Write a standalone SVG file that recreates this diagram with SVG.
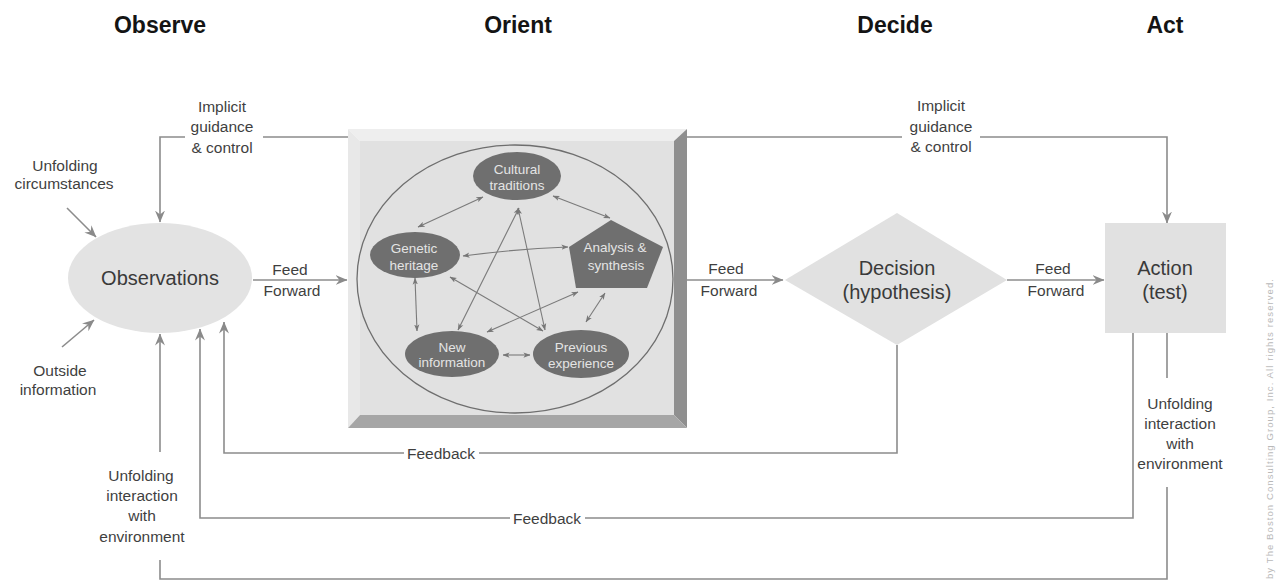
<svg xmlns="http://www.w3.org/2000/svg" width="1276" height="582" viewBox="0 0 1276 582">
  <style>
    text { font-family: "Liberation Sans", Arial, sans-serif; }
    .title { font-size: 23px; font-weight: bold; fill: #141414; text-anchor: middle; }
    .lbl { font-size: 15.5px; fill: #3f3f3f; text-anchor: middle; }
    .big { font-size: 20px; fill: #3a3a3a; text-anchor: middle; }
    .inner { font-size: 13.5px; fill: #e4e4e4; text-anchor: middle; }
    .conn { fill: none; stroke: #8c8c8c; stroke-width: 1.6; }
    .link { fill: none; stroke: #7a7a7a; stroke-width: 1.1; }
    .shape { fill: #e1e1e1; }
    .dark { fill: #6f6f6f; }
  </style>
  <defs>
    <marker id="arrow" viewBox="0 0 12 10" refX="11.5" refY="5" markerWidth="12" markerHeight="10" markerUnits="userSpaceOnUse" orient="auto">
      <path d="M0,0 L12,5 L0,10 L4,5 z" fill="#8a8a8a"/>
    </marker>
    <marker id="tip" viewBox="0 0 8 6" refX="7.5" refY="3" markerWidth="7" markerHeight="6" markerUnits="userSpaceOnUse" orient="auto-start-reverse">
      <path d="M0,0 L8,3 L0,6 L2,3 z" fill="#777"/>
    </marker>
  </defs>

  <rect width="1276" height="582" fill="#ffffff"/>

  <!-- phase headings -->
  <g id="headings">
    <text class="title" x="160" y="33">Observe</text>
    <text class="title" x="518" y="33">Orient</text>
    <text class="title" x="895" y="33">Decide</text>
    <text class="title" x="1165" y="33">Act</text>
  </g>

  <!-- connectors between the stages -->
  <g id="connectors">
    <!-- outside inputs into observations -->
    <path class="conn" d="M67,208 L96,237" marker-end="url(#arrow)"/>
    <path class="conn" d="M62,347 L94,320" marker-end="url(#arrow)"/>
    <!-- implicit guidance & control -->
    <path class="conn" d="M348,137 H263 M185,137 H160 V222" marker-end="url(#arrow)"/>
    <path class="conn" d="M687,137 H902 M980,137 H1167 V223" marker-end="url(#arrow)"/>
    <!-- feed forward -->
    <path class="conn" d="M253,280 H347" marker-end="url(#arrow)"/>
    <path class="conn" d="M687,280 H783" marker-end="url(#arrow)"/>
    <path class="conn" d="M1007,280 H1104" marker-end="url(#arrow)"/>
    <!-- feedback loops -->
    <path class="conn" d="M897,345 V453 H479 M404,453 H224 V322" marker-end="url(#arrow)"/>
    <path class="conn" d="M1133,333 V518 H585 M510,518 H200 V329" marker-end="url(#arrow)"/>
    <!-- unfolding interaction with environment -->
    <path class="conn" d="M1167,333 V378 M1167,487 V579 H160 V560 M160,452 V334" marker-end="url(#arrow)"/>
  </g>

  <!-- connector labels -->
  <g id="labels">
    <text class="lbl" x="65" y="171">Unfolding</text>
    <text class="lbl" x="64" y="189">circumstances</text>
    <text class="lbl" x="60" y="376">Outside</text>
    <text class="lbl" x="58" y="395">information</text>

    <text class="lbl" x="222" y="112">Implicit</text>
    <text class="lbl" x="222" y="132">guidance</text>
    <text class="lbl" x="222" y="153">&amp; control</text>

    <text class="lbl" x="941" y="111">Implicit</text>
    <text class="lbl" x="941" y="132">guidance</text>
    <text class="lbl" x="941" y="152">&amp; control</text>

    <text class="lbl" x="290" y="275">Feed</text>
    <text class="lbl" x="292" y="296">Forward</text>
    <text class="lbl" x="726" y="274">Feed</text>
    <text class="lbl" x="729" y="296">Forward</text>
    <text class="lbl" x="1053" y="274">Feed</text>
    <text class="lbl" x="1056" y="296">Forward</text>

    <text class="lbl" x="441" y="459">Feedback</text>
    <text class="lbl" x="547" y="524">Feedback</text>

    <text class="lbl" x="141" y="481">Unfolding</text>
    <text class="lbl" x="142" y="501">interaction</text>
    <text class="lbl" x="142" y="521">with</text>
    <text class="lbl" x="142" y="542">environment</text>

    <text class="lbl" x="1180" y="409">Unfolding</text>
    <text class="lbl" x="1180" y="429">interaction</text>
    <text class="lbl" x="1180" y="449">with</text>
    <text class="lbl" x="1180" y="469">environment</text>
  </g>

  <!-- Observe -->
  <g id="observations">
    <ellipse cx="160" cy="278" rx="92" ry="55" fill="#e3e3e3"/>
    <text class="big" x="160" y="285">Observations</text>
  </g>

  <!-- Orient: bevelled panel holding the orientation network -->
  <g id="orient">
    <polygon points="348,129 687,129 674,141 360,141" fill="#eeeeee"/>
    <polygon points="348,129 360,141 360,415 348,428" fill="#e8e8e8"/>
    <polygon points="687,129 687,428 674,415 674,141" fill="#8f8f8f"/>
    <polygon points="348,428 687,428 674,415 360,415" fill="#a6a6a6"/>
    <rect x="360" y="141" width="314" height="274" fill="#e1e1e1"/>
    <ellipse cx="515" cy="279" rx="158" ry="134" fill="none" stroke="#6e6e6e" stroke-width="1.3"/>

    <g id="orient-links">
      <path class="link" d="M483,197 L418,227" marker-start="url(#tip)" marker-end="url(#tip)"/>
      <path class="link" d="M553,196 L610,218" marker-start="url(#tip)" marker-end="url(#tip)"/>
      <path class="link" d="M463,256 Q515,249 568,247" marker-start="url(#tip)" marker-end="url(#tip)"/>
      <path class="link" d="M415,278 L417,331" marker-start="url(#tip)" marker-end="url(#tip)"/>
      <path class="link" d="M503,355 L530,355" marker-start="url(#tip)" marker-end="url(#tip)"/>
      <path class="link" d="M605,293 L586,322" marker-start="url(#tip)" marker-end="url(#tip)"/>
      <path class="link" d="M519,208 L458,330" marker-start="url(#tip)" marker-end="url(#tip)"/>
      <path class="link" d="M518,208 L545,330" marker-start="url(#tip)" marker-end="url(#tip)"/>
      <path class="link" d="M450,277 L543,331" marker-start="url(#tip)" marker-end="url(#tip)"/>
      <path class="link" d="M578,292 L487,332" marker-start="url(#tip)" marker-end="url(#tip)"/>
    </g>

    <g id="cultural-traditions">
      <ellipse class="dark" cx="517" cy="176" rx="44" ry="24"/>
      <text class="inner" x="517" y="174">Cultural</text>
      <text class="inner" x="517" y="190">traditions</text>
    </g>
    <g id="genetic-heritage">
      <ellipse class="dark" cx="415" cy="255" rx="45" ry="23"/>
      <text class="inner" x="414" y="253">Genetic</text>
      <text class="inner" x="414" y="270">heritage</text>
    </g>
    <g id="analysis-synthesis">
      <polygon class="dark" points="611,220 663,247 647,288 576,288 569,247"/>
      <text class="inner" x="615" y="252">Analysis &amp;</text>
      <text class="inner" x="616" y="270">synthesis</text>
    </g>
    <g id="new-information">
      <ellipse class="dark" cx="452" cy="354" rx="47" ry="23"/>
      <text class="inner" x="452" y="352">New</text>
      <text class="inner" x="452" y="367">information</text>
    </g>
    <g id="previous-experience">
      <ellipse class="dark" cx="581" cy="354" rx="48" ry="24"/>
      <text class="inner" x="581" y="352">Previous</text>
      <text class="inner" x="581" y="368">experience</text>
    </g>
  </g>

  <!-- Decide -->
  <g id="decision">
    <polygon class="shape" points="785,280 897,213 1007,280 897,345"/>
    <text class="big" x="897" y="275">Decision</text>
    <text class="big" x="897" y="299">(hypothesis)</text>
  </g>

  <!-- Act -->
  <g id="action">
    <rect class="shape" x="1105" y="223" width="121" height="110"/>
    <text class="big" x="1165" y="275">Action</text>
    <text class="big" x="1165" y="299">(test)</text>
  </g>

  <!-- credit line along the right edge -->
  <text transform="translate(1273,579) rotate(-90)" font-size="9.5" fill="#b8b8b8" textLength="300" lengthAdjust="spacing">by The Boston Consulting Group, Inc. All rights reserved.</text>
</svg>
